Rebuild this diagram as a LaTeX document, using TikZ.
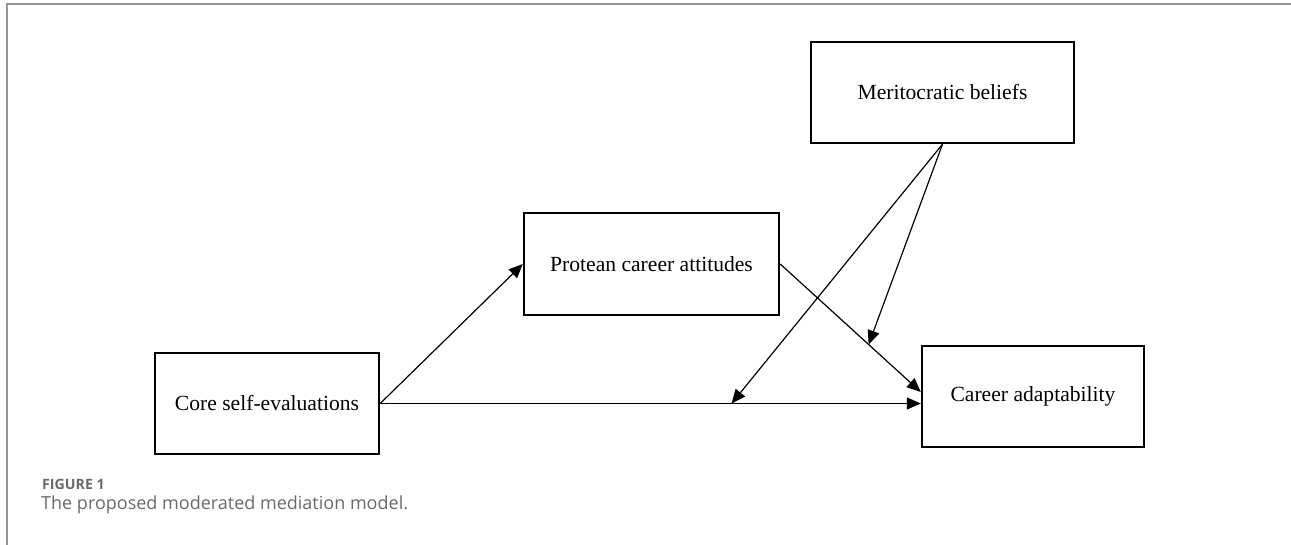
\documentclass[tikz,border=0pt]{standalone}
\usepackage{fontspec}
\setmainfont{Liberation Serif}
\newfontfamily\capfont{Open Sans}
\usetikzlibrary{arrows.meta,calc}
\definecolor{framegray}{RGB}{150,150,150}
\definecolor{capgray}{RGB}{105,105,105}
\begin{document}
\begin{tikzpicture}[x=1pt,y=-1pt,
  box/.style={draw=black,line width=2.4pt,rectangle,inner sep=0pt,
    font=\fontsize{21.6}{26}\selectfont},
  conn/.style={draw=black,line width=1.2pt,-{Triangle[length=14pt,width=12pt]}},
  frameline/.style={draw=framegray,line width=1.6pt}]
\useasboundingbox (0,0) rectangle (1291,545);
% frame
\coordinate (ftl) at (7,4);
\coordinate (ftr) at (1291,4);
\coordinate (fbl) at (7,545);
\draw[frameline] (fbl) -- (ftl) -- (ftr);
% boxes
\node[box,minimum width=263pt,minimum height=101pt] (merit) at (942.5,92.5) {Meritocratic beliefs};
\node[box,minimum width=255pt,minimum height=102pt] (protean) at (651.5,264) {Protean career attitudes};
\node[box,minimum width=224pt,minimum height=101pt] (core) at (267,403.5) {Core self-evaluations};
\node[box,minimum width=222pt,minimum height=101pt] (career) at (1033,396.5) {Career adaptability};
% connection points
\coordinate (cin1) at ($(career.west)+(0,-4.5)$);
\coordinate (cin2) at (core.east -| career.west);
\coordinate (m1) at ($(core.east)!0.650!(cin2)$);
\coordinate (m2) at ($(protean.east)!0.629!(cin1)$);
% connectors
\draw[conn] (core.east) -- (protean.west);
\draw[conn] (core.east) -- (cin2);
\draw[conn] (protean.east) -- (cin1);
\draw[conn] (merit.south) -- (m1);
\draw[conn] (merit.south) -- (m2);
% caption
\node[anchor=base west,inner sep=0pt,text=capgray,font=\capfont\bfseries\fontsize{14.2}{17}\selectfont] (figlabel) at (42,489) {FIGURE 1};
\node[anchor=base west,inner sep=0pt,text=capgray,font=\capfont\fontsize{18}{22}\selectfont] (caption) at (41,509) {The proposed moderated mediation model.};
\end{tikzpicture}
\end{document}
